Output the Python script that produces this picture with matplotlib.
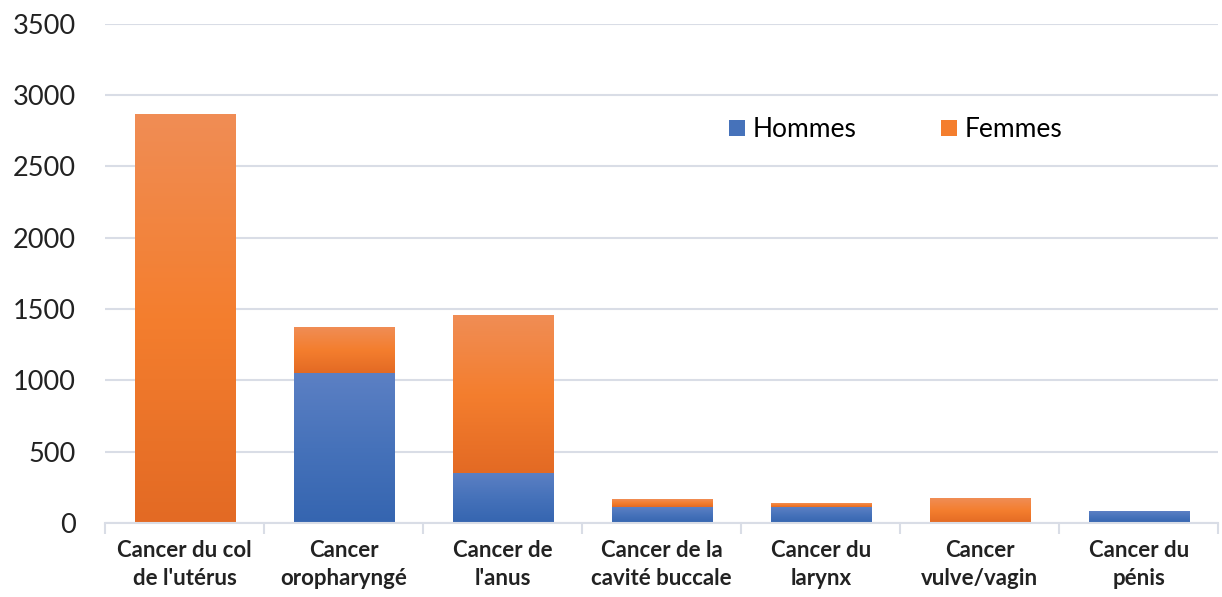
import numpy as np
import matplotlib.pyplot as plt
from matplotlib.colors import LinearSegmentedColormap
from matplotlib.patches import Patch

categories = ["Cancer du col\nde l'utérus", "Cancer\noropharyngé", "Cancer de\nl'anus",
              "Cancer de la\ncavité buccale", "Cancer du\nlarynx", "Cancer\nvulve/vagin",
              "Cancer du\npénis"]
hommes = [0, 1052, 351, 112, 112, 0, 84]
femmes = [2868, 322, 1108, 56, 28, 175, 0]
yticks = [0, 500, 1000, 1500, 2000, 2500, 3000, 3500]

plt.rcParams['font.family'] = ['Lato', 'DejaVu Sans']

blue_cm = LinearSegmentedColormap.from_list('b', ['#3565B0', '#4672BA', '#5C80C4'])
orange_cm = LinearSegmentedColormap.from_list('o', ['#E36A24', '#F47E2E', '#F08D55'])

fig = plt.figure(figsize=(12.22, 5.97), dpi=100)
ax = fig.add_axes([0.086, 0.124, 0.911, 0.836])

x = np.arange(len(categories))
width = 0.63
grad = np.linspace(0, 1, 256).reshape(-1, 1)

def gradient_bar(xc, bottom, height, cmap):
    if height <= 0:
        return
    ax.imshow(grad, cmap=cmap, aspect='auto', origin='lower', zorder=3,
              extent=[xc - width / 2, xc + width / 2, bottom, bottom + height])

for i in range(len(categories)):
    gradient_bar(x[i], 0, hommes[i], blue_cm)
    gradient_bar(x[i], hommes[i], femmes[i], orange_cm)

ax.set_xlim(-0.5, len(categories) - 0.5)
ax.set_ylim(0, 3500)
ax.set_yticks(yticks)
ax.set_yticklabels([str(v) for v in yticks], fontsize=19.5, color='#222222')
ax.set_xticks(x)
ax.set_xticklabels(categories, fontsize=16, fontweight='bold', color='#222222',
                   linespacing=1.45)
ax.tick_params(axis='y', length=0, pad=21)
ax.tick_params(axis='x', length=0, pad=12)
ax.set_xticks(np.arange(-0.5, len(categories), 1), minor=True)
ax.tick_params(axis='x', which='minor', length=8, width=1.5, color='#D9DDE6', direction='out')
ax.grid(axis='y', color='#D9DDE6', linewidth=1.5, zorder=0)
ax.set_axisbelow(True)
for s in ['top', 'right', 'left']:
    ax.spines[s].set_visible(False)
ax.spines['bottom'].set_color('#D9DDE6')
ax.spines['bottom'].set_linewidth(1.5)
ax.spines['bottom'].set_zorder(4)

handles = [Patch(facecolor='#4672BA', label='Hommes'),
           Patch(facecolor='#F47E2E', label='Femmes')]
ax.legend(handles=handles, ncol=2, frameon=False, fontsize=19,
          loc='center', bbox_to_anchor=(0.71, 0.788), handlelength=0.6,
          handleheight=0.6, handletextpad=0.3, columnspacing=3.2)

plt.savefig("out.png")
